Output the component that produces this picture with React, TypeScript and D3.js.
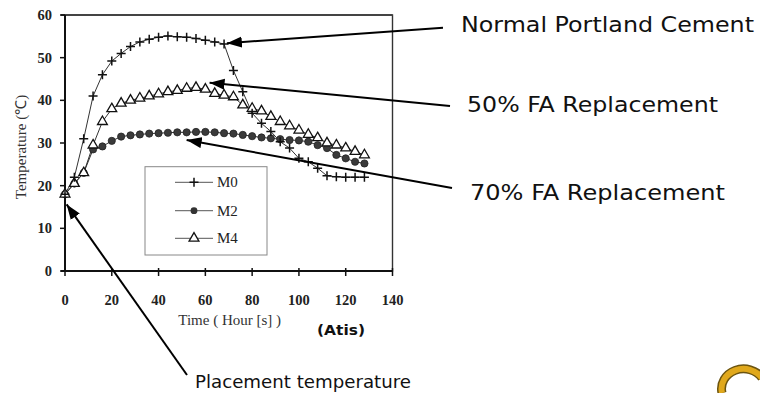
import React from "react";
import * as d3 from "d3";

const hours = [0,4,8,12,16,20,24,28,32,36,40,44,48,52,56,60,64,68,72,76,80,84,88,92,96,100,104,108,112,116,120,124,128];
const m0 = [18,22,31,41,46,49.2,51,52.6,53.7,54.3,54.8,55.1,54.9,54.8,54.5,54.1,53.7,53.2,47,42,37,34.6,32.7,30.3,28.8,26.4,25.6,24.1,22.3,22.1,22,22,22];
const m2 = [18,20.5,23,28.5,29.2,30.5,31.5,31.8,32,32.2,32.3,32.4,32.5,32.5,32.6,32.6,32.5,32.3,32.2,31.9,31.6,31.3,31.1,30.9,30.7,30.6,30.3,29.5,28.8,27.2,26.4,25.6,25.2];
const m4 = [18,20.5,23,29.5,35,38,39.3,40,40.5,41,41.5,42,42.3,42.8,43,42.6,41.6,41.2,40.8,38.9,38.1,37.5,36.2,35,34,33,32,31.2,30,29.5,28.8,28,27.2];

const xTicks = [0,20,40,60,80,100,120,140];
const yTicks = [0,10,20,30,40,50,60];
const seriesNames = ["M0","M2","M4"];

const annotLabels = ["Normal Portland Cement","50% FA Replacement","70% FA Replacement","Placement temperature"];

export default function App() {
  const W = 760, H = 393;
  const x = d3.scaleLinear().domain([0,140]).range([65,392.5]);
  const y = d3.scaleLinear().domain([0,60]).range([271,15]);
  const line = d3.line<number>().x((_, i) => x(hours[i])).y(d => y(d));
  const serif = "'Liberation Serif', 'Times New Roman', serif";
  const sans = "'DejaVu Sans', Verdana, sans-serif";
  const tri = d3.symbol().type(d3.symbolTriangle).size(42)() as string;

  const plus = (cx: number, cy: number, s = 4.5) => `M${cx - s},${cy}H${cx + s}M${cx},${cy - s}V${cy + s}`;

  // annotation: tip in data coords, tail in pixels
  const arrows = [
    { tip: [69.2, 53.4], tail: [443, 27.7] },
    { tip: [61.8, 44.1], tail: [450, 106] },
    { tip: [52, 30.7], tail: [452, 188] },
    { tip: [0.7, 15.6], tail: [187, 375] },
  ];
  const textPos = [
    { x: 461, y: 31.5, size: 22, len: 293 },
    { x: 467, y: 112, size: 21.5, len: 251 },
    { x: 470, y: 199.5, size: 21.5, len: 255 },
    { x: 195, y: 387.5, size: 18, len: 216 },
  ];

  const legendY = [182.3, 210.7, 238.3];

  return (
    <svg width={W} height={H} style={{ position: "absolute", left: 0, top: 0, background: "#fff" }}>
      <defs>
        <marker id="ah" markerUnits="userSpaceOnUse" markerWidth={16} markerHeight={12} refX={15} refY={6} orient="auto">
          <path d="M0,0.5 L15,6 L0,11.5 Z" fill="#000" />
        </marker>
      </defs>
      <rect width={W} height={H} fill="#fff" />
      {/* plot frame */}
      <rect x={x(0)} y={y(60)} width={x(140) - x(0)} height={y(0) - y(60)} fill="none" stroke="#333" strokeWidth={1.4} />
      <line x1={x(0) - 4} x2={x(140)} y1={y(60)} y2={y(60)} stroke="#444" strokeWidth={2.2} />
      <line x1={x(0)} x2={x(0)} y1={y(60)} y2={y(0)} stroke="#111" strokeWidth={2} />
      <line x1={x(0) - 4} x2={x(140)} y1={y(0)} y2={y(0)} stroke="#111" strokeWidth={2.2} />
      {yTicks.map(t => (
        <g key={"y" + t}>
          <line x1={x(0) - 5} x2={x(0)} y1={y(t)} y2={y(t)} stroke="#111" strokeWidth={1.5} />
          <text x={52} y={y(t) + 5} textAnchor="end" fontFamily={serif} fontWeight="bold" fontSize={14.5} fill="#222">{t}</text>
        </g>
      ))}
      {xTicks.map(t => (
        <g key={"x" + t}>
          <line x1={x(t)} x2={x(t)} y1={y(0) - 3} y2={y(0) + 5} stroke="#111" strokeWidth={1.5} />
          <text x={x(t)} y={305} textAnchor="middle" fontFamily={serif} fontWeight="bold" fontSize={14.5} fill="#222">{t}</text>
        </g>
      ))}
      <text x={229.7} y={325} textAnchor="middle" fontFamily={serif} fontSize={15} fill="#333">Time ( Hour [s] )</text>
      <text transform="translate(26,147) rotate(-90)" textAnchor="middle" fontFamily={serif} fontSize={15} fill="#333">Temperature (℃)</text>
      <text x={317} y={335} fontFamily={sans} fontWeight="bold" fontSize={14} fill="#111" textLength={48} lengthAdjust="spacingAndGlyphs">(Atis)</text>

      {/* series lines */}
      <path d={line(m4) as string} fill="none" stroke="#333" strokeWidth={1} />
      <path d={line(m2) as string} fill="none" stroke="#333" strokeWidth={1} />
      <path d={line(m0) as string} fill="none" stroke="#333" strokeWidth={1} />
      {m2.map((v, i) => (
        <circle key={"c" + i} cx={x(hours[i])} cy={y(v)} r={3.6} fill="#3a3a3a" stroke="#222" strokeWidth={0.8} />
      ))}
      {m4.map((v, i) => (
        <path key={"t" + i} d={tri} transform={`translate(${x(hours[i])},${y(v)})`} fill="#fff" stroke="#111" strokeWidth={1.3} />
      ))}
      {m0.map((v, i) => (
        <path key={"p" + i} d={plus(x(hours[i]), y(v))} stroke="#111" strokeWidth={1.5} />
      ))}

      {/* legend */}
      <rect x={145} y={166.7} width={122} height={88.3} fill="#fff" stroke="#888" strokeWidth={1} />
      {seriesNames.map((n, i) => (
        <g key={n}>
          <line x1={175} x2={213} y1={legendY[i]} y2={legendY[i]} stroke="#777" strokeWidth={1.2} />
          {i === 0 && <path d={plus(194, legendY[i])} stroke="#111" strokeWidth={1.5} />}
          {i === 1 && <circle cx={194} cy={legendY[i]} r={3.4} fill="#333" />}
          {i === 2 && <path d={tri} transform={`translate(194,${legendY[i]})`} fill="#fff" stroke="#111" strokeWidth={1.3} />}
          <text x={217} y={legendY[i] + 5} fontFamily={serif} fontSize={15} fill="#222">{n}</text>
        </g>
      ))}

      {/* annotations */}
      {arrows.map((a, i) => (
        <line key={"a" + i} x1={a.tail[0]} y1={a.tail[1]} x2={x(a.tip[0])} y2={y(a.tip[1])} stroke="#000" strokeWidth={2} markerEnd="url(#ah)" />
      ))}
      {annotLabels.map((l, i) => (
        <text key={"l" + i} x={textPos[i].x} y={textPos[i].y} fontFamily={sans} fontSize={textPos[i].size} fill="#111" textLength={textPos[i].len} lengthAdjust="spacingAndGlyphs">{l}</text>
      ))}

      {/* logo fragment bottom-right */}
      <path d="M722,393 A22,20 0 0 1 762,378" fill="none" stroke="#6b5410" strokeWidth={9} />
      <path d="M722,393 A22,20 0 0 1 762,378" fill="none" stroke="#e0a81c" strokeWidth={6} />
    </svg>
  );
}
